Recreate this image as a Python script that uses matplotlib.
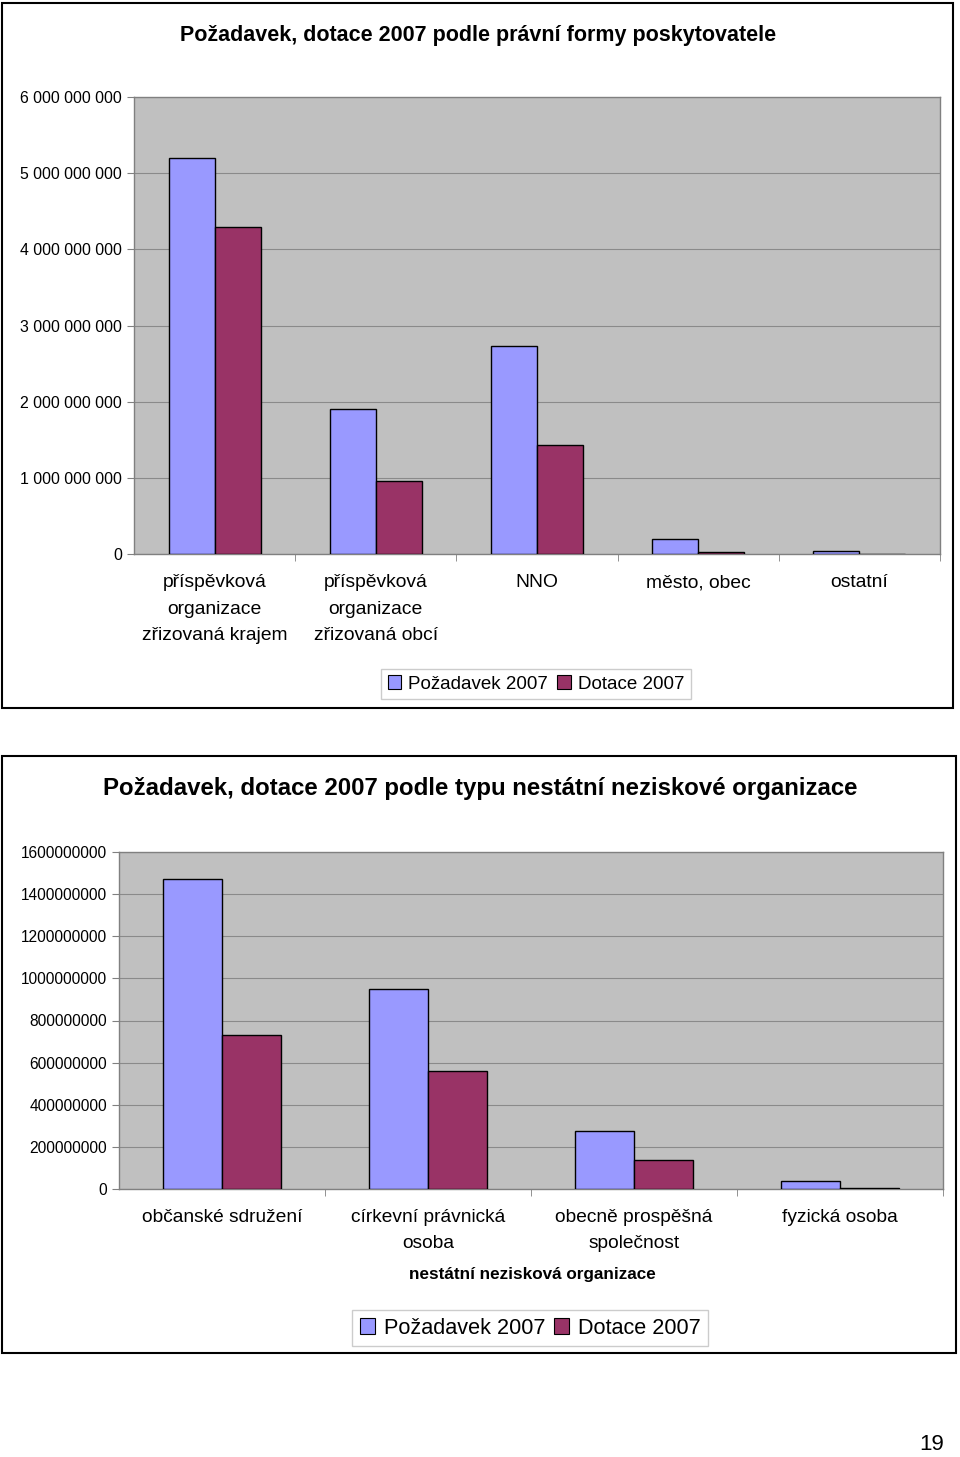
import matplotlib
matplotlib.use("Agg")
import matplotlib.pyplot as plt
from matplotlib.patches import Rectangle, Patch
from matplotlib.ticker import FuncFormatter, FixedLocator, NullFormatter
import numpy as np

plt.rcParams['font.family'] = ['Liberation Sans', 'DejaVu Sans']

# ---------------- data ----------------
title1 = "Požadavek, dotace 2007 podle právní formy poskytovatele"
cats1 = ["příspěvková\norganizace\nzřizovaná krajem",
         "příspěvková\norganizace\nzřizovaná obcí",
         "NNO", "město, obec", "ostatní"]
pozadavek1 = [5.20e9, 1.90e9, 2.73e9, 0.20e9, 0.04e9]
dotace1 = [4.29e9, 0.96e9, 1.43e9, 0.02e9, 0.002e9]
yticks1 = [0, 1e9, 2e9, 3e9, 4e9, 5e9, 6e9]

title2 = "Požadavek, dotace 2007 podle typu nestátní neziskové organizace"
cats2 = ["občanské sdružení", "církevní právnická\nosoba",
         "obecně prospěšná\nspolečnost", "fyzická osoba"]
pozadavek2 = [1.472e9, 0.950e9, 0.275e9, 0.038e9]
dotace2 = [0.731e9, 0.560e9, 0.138e9, 0.005e9]
yticks2 = [0, 2e8, 4e8, 6e8, 8e8, 10e8, 12e8, 14e8, 16e8]
xlabel2 = "nestátní nezisková organizace"

series = ["Požadavek 2007", "Dotace 2007"]
colors = ["#9999FF", "#993366"]
page_number = "19"

# ---------------- layout ----------------
W, H = 960, 1457
fig = plt.figure(figsize=(W / 100, H / 100), dpi=100)
PT = 72 / 100  # points per pixel


def px_axes(x0, y0, x1, y1):
    return fig.add_axes([x0 / W, 1 - y1 / H, (x1 - x0) / W, (y1 - y0) / H])


def frame(x0, y0, x1, y1):
    fig.patches.append(Rectangle((x0 / W, 1 - y1 / H), (x1 - x0) / W, (y1 - y0) / H,
                                 transform=fig.transFigure, fill=False,
                                 edgecolor="black", linewidth=1.5))


def draw_chart(ax, cats, vals_a, vals_b, yticks, fmt, tick_fs, cat_fs,
               first_base_px, line_px):
    n = len(cats)
    x = np.arange(n)
    bw = 1 / 3.5
    ax.set_facecolor("#C0C0C0")
    ax.bar(x - bw / 2, vals_a, width=bw, color=colors[0], edgecolor="black",
           linewidth=1.0, zorder=3)
    ax.bar(x + bw / 2, vals_b, width=bw, color=colors[1], edgecolor="black",
           linewidth=1.0, zorder=3)
    ax.set_xlim(-0.5, n - 0.5)
    ax.set_ylim(yticks[0], yticks[-1])
    ax.set_yticks(yticks)
    ax.yaxis.set_major_formatter(FuncFormatter(fmt))
    ax.grid(axis="y", color="#8a8a8a", linewidth=0.8, zorder=0)
    ax.set_axisbelow(True)
    ax.set_xticks(x)
    ax.xaxis.set_major_formatter(NullFormatter())
    ax.xaxis.set_minor_locator(FixedLocator(np.arange(0.5, n - 0.5, 1.0).tolist() + [n - 0.5]))
    ax.tick_params(axis="x", which="major", length=0)
    ax.tick_params(axis="x", which="minor", length=5, color="#808080")
    ax.tick_params(axis="y", length=5, color="#808080", labelsize=tick_fs, pad=3.5)
    for s in ax.spines.values():
        s.set_color("#808080")
        s.set_linewidth(1.0)
    # category labels, one line at a time, baseline aligned
    for i, lab in enumerate(cats):
        for j, line in enumerate(lab.split("\n")):
            ax.annotate(line, xy=(i, 0), xycoords=("data", "axes fraction"),
                        xytext=(0, -(first_base_px + j * line_px) * PT),
                        textcoords="offset points", ha="center", va="baseline",
                        fontsize=cat_fs, annotation_clip=False)


def fmt_space(v, pos):
    return f"{int(round(v)):,}".replace(",", " ")


def fmt_plain(v, pos):
    return f"{int(round(v))}"


h = [Patch(facecolor=colors[0], edgecolor="black", linewidth=0.8),
     Patch(facecolor=colors[1], edgecolor="black", linewidth=0.8)]

# chart 1
frame(2, 3, 953, 708)
fig.text(478 / W, 1 - 35 / H, title1, ha="center", va="center",
         fontsize=15.5, fontweight="bold")
ax1 = px_axes(134, 97, 940, 554)
draw_chart(ax1, cats1, pozadavek1, dotace1, yticks1, fmt_space, 11.4, 13.9, 33, 26.5)
leg1 = fig.legend(h, series, loc="center", bbox_to_anchor=(536 / W, 1 - 684 / H),
                  ncol=2, fontsize=13.5, frameon=True, fancybox=False,
                  edgecolor="#c0c0c0", handlelength=0.7, handleheight=0.7,
                  handletextpad=0.4, columnspacing=0.5, borderpad=0.35,
                  borderaxespad=0)
leg1.get_frame().set_linewidth(1.0)

# chart 2
frame(2, 756, 956, 1353)
fig.text(480 / W, 1 - 789 / H, title2, ha="center", va="center",
         fontsize=17.3, fontweight="bold")
ax2 = px_axes(119, 852, 943, 1189)
draw_chart(ax2, cats2, pozadavek2, dotace2, yticks2, fmt_plain, 11.2, 13.8, 33, 26)
fig.text(532 / W, 1 - 1275 / H, xlabel2, ha="center", va="center",
         fontsize=12.3, fontweight="bold")
leg2 = fig.legend(h, series, loc="center", bbox_to_anchor=(530 / W, 1 - 1328 / H),
                  ncol=2, fontsize=15.6, frameon=True, fancybox=False,
                  edgecolor="#c0c0c0", handlelength=0.7, handleheight=0.7,
                  handletextpad=0.4, columnspacing=0.4, borderpad=0.35,
                  borderaxespad=0)
leg2.get_frame().set_linewidth(1.0)

fig.text(932 / W, 1 - 1445 / H, page_number, ha="center", va="center", fontsize=16)

fig.savefig("out.png", dpi=100)
